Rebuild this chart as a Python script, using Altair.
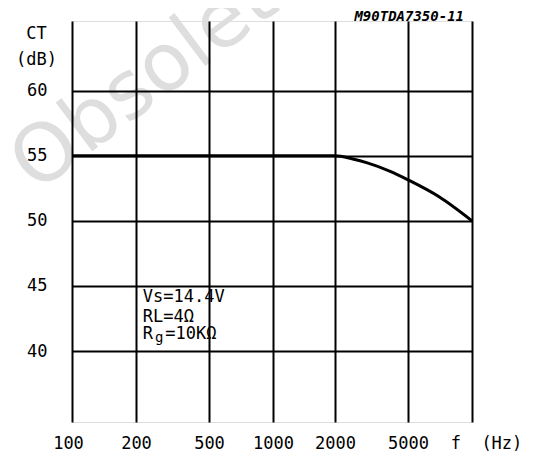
import math
import altair as alt
import pandas as pd

# curve data (frequency in Hz, crosstalk in dB)
freq = [100, 200, 500, 1000, 2000, 2500, 3000, 4000, 5000, 7000, 10000]
ct = [55.0, 55.0, 55.0, 55.0, 55.0, 54.75, 54.45, 53.8, 53.15, 51.85, 50.0]

x_ticks = [100, 200, 500, 1000, 2000, 5000, 10000]
y_ticks = [40, 45, 50, 55, 60]

ann_text = ["Vs=14.4V", "RL=4\u03a9"]
ann_x = [218, 218]
ann_y = [44.15, 42.62]
rg_parts = ["R", "g", "=10K\u03a9"]
rg_y = 41.3

FONT = "DejaVu Sans Mono"
FS = 17

x_log = [math.log10(v) for v in x_ticks]
# plotter paper spacing of the decade grid
xscale = alt.Scale(domain=x_log, range=[0, 64, 137, 201, 263, 336, 400])
yscale = alt.Scale(domain=[34.55, 65.35], nice=False, zero=False)

df = pd.DataFrame({"f": freq, "ct": ct})
ann = pd.DataFrame({"t": ann_text, "f": ann_x, "ct": ann_y})

xaxis = alt.Axis(
    values=x_log, grid=True, ticks=False, domain=False, title=None,
    labelExpr="datum.value >= 3.99 ? 'f\u00a0\u00a0(Hz)' : format(pow(10, datum.value), '.0f')",
    labelOffset={"expr": "datum.value >= 3.99 ? 14 : (datum.value < 2.01 ? -4 : 0)"},
    labelPadding=13, labelFont=FONT, labelFontSize=FS, labelColor="black",
    gridColor="black", gridWidth=2, gridOpacity=1, labelFlush=False, zindex=1,
)
yaxis = alt.Axis(
    values=y_ticks, grid=True, ticks=False, domain=False,
    labelPadding=25, labelFont=FONT, labelFontSize=FS, labelColor="black",
    gridColor="black", gridWidth=2, gridOpacity=1, labelFlush=False, zindex=1,
    title=["CT", "(dB)"], titleAngle=0, titleX=-36, titleY=17,
    titleAlign="center", titleBaseline="alphabetic", titleFont=FONT,
    titleFontSize=FS, titleFontWeight="normal", titleColor="black",
    titleLineHeight=26,
)

watermark = alt.Chart(pd.DataFrame({"t": ["Obsolete"]})).mark_text(
    font="DejaVu Sans", fontSize=80, color="#dedede", angle=323,
    align="center", baseline="middle"
).encode(text="t:N", x=alt.value(92), y=alt.value(46))

line = alt.Chart(df).transform_calculate(
    lf="log(datum.f) / LN10"
).mark_line(color="black", strokeWidth=3, interpolate="monotone").encode(
    x=alt.X("lf:Q", scale=xscale, axis=xaxis),
    y=alt.Y("ct:Q", scale=yscale, axis=yaxis),
)

text = alt.Chart(ann).transform_calculate(
    lf="log(datum.f) / LN10"
).mark_text(
    font=FONT, fontSize=FS, color="black", align="left", baseline="middle"
).encode(
    x=alt.X("lf:Q", scale=xscale),
    y=alt.Y("ct:Q", scale=yscale),
    text="t:N",
)

rg_layers = []
cw = FS * 0.602
for i, part in enumerate(rg_parts):
    d = pd.DataFrame({"t": [part], "f": [ann_x[0]], "ct": [rg_y]})
    rg_layers.append(
        alt.Chart(d).transform_calculate(lf="log(datum.f) / LN10").mark_text(
            font=FONT, fontSize=(14 if part == "g" else FS), color="black",
            align="left", baseline="middle",
            dx=cw * i + (2 if i else 0), dy=(4 if part == "g" else 0),
        ).encode(
            x=alt.X("lf:Q", scale=xscale),
            y=alt.Y("ct:Q", scale=yscale),
            text="t:N",
        )
    )

title = alt.Chart(pd.DataFrame({"t": ["M90TDA7350-11"]})).mark_text(
    font=FONT, fontSize=14, fontStyle="italic", fontWeight="bold", color="black",
    align="right", baseline="middle"
).encode(text="t:N", x=alt.value(392), y=alt.value(-4))

chart = alt.layer(watermark, line, text, *rg_layers, title).properties(
    width=400, height=401,
    autosize=alt.AutoSizeParams(type="none"),
    padding={"left": 64, "top": 13, "right": 66, "bottom": 34},
).configure_view(stroke="black", strokeWidth=2.5).configure(background="white")

chart.save("out.html", embed_options={"renderer": "svg", "actions": False})
